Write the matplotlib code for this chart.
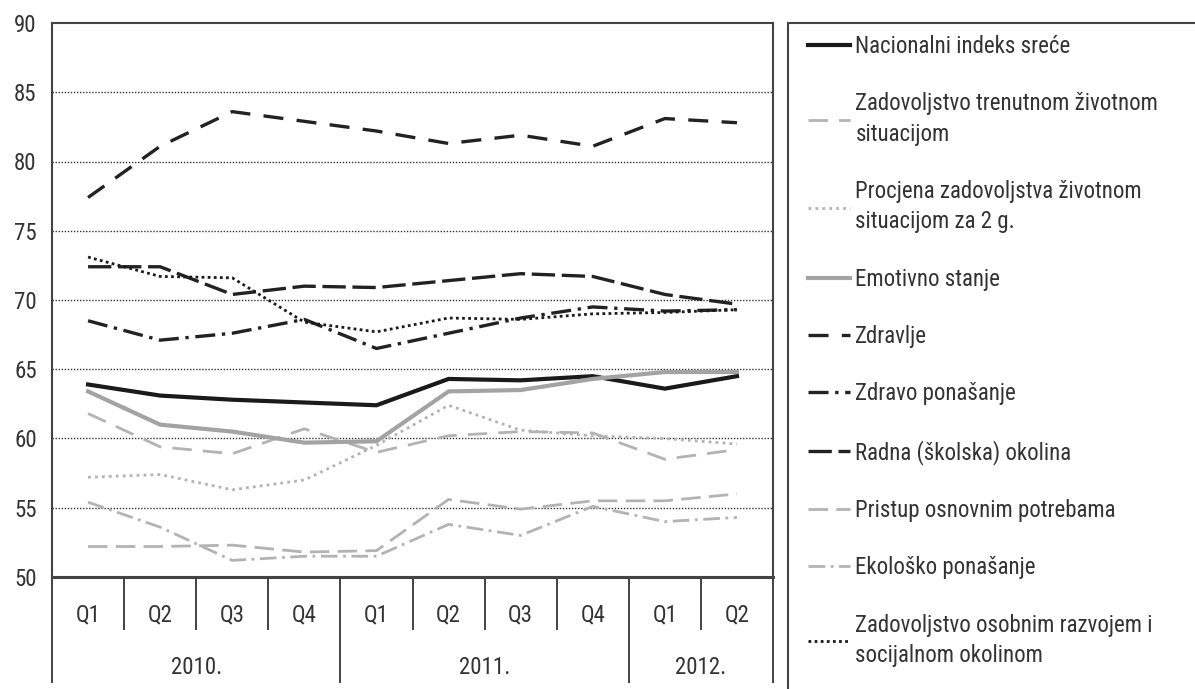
import numpy as np
import matplotlib.pyplot as plt
from matplotlib.patches import Rectangle
from matplotlib.transforms import blended_transform_factory

plt.rcParams['font.family'] = ['Roboto Condensed', 'Liberation Sans', 'DejaVu Sans']

quarters = ['Q1', 'Q2', 'Q3', 'Q4', 'Q1', 'Q2', 'Q3', 'Q4', 'Q1', 'Q2']
years = ['2010.', '2011.', '2012.']
year_quarters = [4, 4, 2]

nacionalni = [63.9, 63.1, 62.8, 62.6, 62.4, 64.3, 64.2, 64.5, 63.6, 64.5]
trenutno = [61.8, 59.4, 58.9, 60.7, 59.0, 60.2, 60.5, 60.4, 58.5, 59.2]
procjena = [57.2, 57.4, 56.3, 57.0, 59.5, 62.4, 60.6, 60.2, 60.0, 59.6]
emotivno = [63.4, 61.0, 60.5, 59.7, 59.8, 63.4, 63.5, 64.3, 64.8, 64.8]
zdravlje = [77.4, 81.1, 83.6, 82.9, 82.2, 81.3, 81.9, 81.1, 83.1, 82.8]
zdravo_ponasanje = [68.5, 67.1, 67.6, 68.6, 66.5, 67.6, 68.7, 69.5, 69.2, 69.3]
radna_okolina = [72.4, 72.4, 70.4, 71.0, 70.9, 71.4, 71.9, 71.7, 70.4, 69.7]
pristup = [52.2, 52.2, 52.3, 51.8, 51.9, 55.6, 54.9, 55.5, 55.5, 56.0]
ekolosko = [55.4, 53.6, 51.2, 51.5, 51.5, 53.8, 53.0, 55.1, 54.0, 54.3]
osobni_razvoj = [73.1, 71.7, 71.6, 68.4, 67.7, 68.7, 68.6, 69.0, 69.1, 69.3]

series = [
    ('Nacionalni indeks sreće', nacionalni, '#1a1a1a', 3.0, '-'),
    ('Zadovoljstvo trenutnom životnom\nsituacijom', trenutno, '#b3b3b3', 2.0, (0, (7, 4))),
    ('Procjena zadovoljstva životnom\nsituacijom za 2 g.', procjena, '#b3b3b3', 2.0, (0, (1, 1.5))),
    ('Emotivno stanje', emotivno, '#a3a3a3', 3.0, '-'),
    ('Zdravlje', zdravlje, '#222222', 2.4, (0, (6, 4))),
    ('Zdravo ponašanje', zdravo_ponasanje, '#222222', 2.4, (0, (6, 2, 1, 2))),
    ('Radna (školska) okolina', radna_okolina, '#222222', 2.4, (0, (7, 2))),
    ('Pristup osnovnim potrebama', pristup, '#b3b3b3', 2.0, (0, (7, 3))),
    ('Ekološko ponašanje', ekolosko, '#b3b3b3', 2.0, (0, (6, 2, 1, 2))),
    ('Zadovoljstvo osobnim razvojem i\nsocijalnom okolinom', osobni_razvoj, '#1a1a1a', 2.0, (0, (1, 1.2))),
]

fs = 16.5

fig = plt.figure(figsize=(11.95, 6.89), dpi=100)
ax = fig.add_axes([52 / 1195, 112 / 689, 721 / 1195, 554 / 689])

x = np.arange(len(quarters)) + 0.5
handles = []
for label, vals, color, lw, ls in series:
    h, = ax.plot(x, vals, color=color, lw=lw, linestyle=ls, label=label,
                 solid_joinstyle='miter', dash_capstyle='butt')
    handles.append(h)

ax.set_xlim(0, len(quarters))
ax.set_ylim(50, 90)
ax.set_yticks(np.arange(50, 91, 5))
ax.tick_params(axis='y', length=0, pad=11, labelsize=fs, labelcolor='#333333')
for yv in np.arange(55, 90, 5):
    ax.axhline(yv, color='#333333', lw=1.0, linestyle=(0, (1, 1.2)), zorder=0)

for s in ax.spines.values():
    s.set_color('#444444')
    s.set_linewidth(1.5)
ax.spines['bottom'].set_linewidth(2.2)

# x axis: year separators as long ticks, quarter separators as short ones
bounds = np.concatenate([[0], np.cumsum(year_quarters)])
ax.set_xticks(bounds)
ax.set_xticklabels([''] * len(bounds))
ax.set_xticks([i for i in range(1, len(quarters)) if i not in bounds], minor=True)
ax.tick_params(axis='x', which='major', length=76, width=1.2, color='#222222', direction='out')
ax.tick_params(axis='x', which='minor', length=38, width=1.2, color='#222222', direction='out')

trans = blended_transform_factory(ax.transData, ax.transAxes)
for xi, q in zip(x, quarters):
    ax.text(xi, -38 / 554, q, transform=trans, ha='center', va='center',
            fontsize=fs, color='#333333')
for i, yr in enumerate(years):
    ax.text((bounds[i] + bounds[i + 1]) / 2, -91 / 554, yr, transform=trans,
            ha='center', va='center', fontsize=fs, color='#333333')

# legend box
fig.patches.append(Rectangle((788 / 1195, -0.05), 0.4, 0.05 + 666 / 689,
                             transform=fig.transFigure, fill=False,
                             edgecolor='#444444', lw=1.5))
leg = fig.legend(handles=handles, loc='upper left',
                 bbox_to_anchor=(808 / 1195, (689 - 35) / 689), frameon=False,
                 fontsize=fs, handlelength=1.85, handletextpad=0.22,
                 labelspacing=1.5, borderaxespad=0, borderpad=0)
for t in leg.get_texts():
    t.set_linespacing(1.4)
    t.set_color('#333333')

fig.savefig('out.png', dpi=100)
